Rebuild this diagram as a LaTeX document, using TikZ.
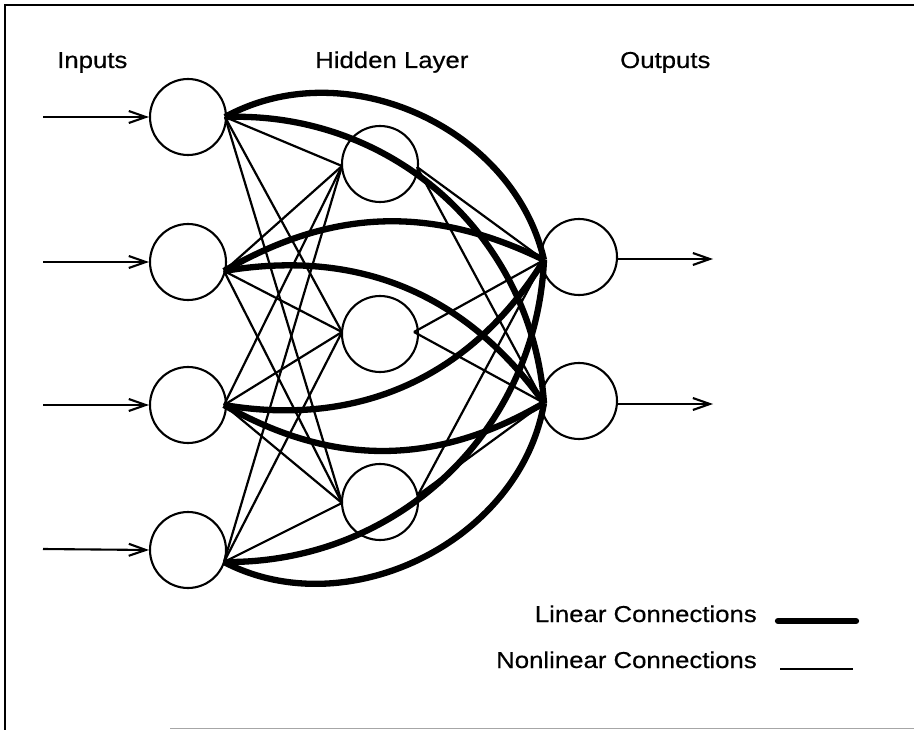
\documentclass[tikz,border=0pt]{standalone}
\usepackage{fontspec}
\setmainfont[FakeStretch=1.12,FakeBold=0.5]{Liberation Sans}
\usetikzlibrary{arrows.meta}
\begin{document}
\begin{tikzpicture}[x=1pt,y=1pt,
  neuron/.style={draw,circle,line width=2.1pt,minimum size=76pt,inner sep=0pt},
  nonlin/.style={line width=2.2pt},
  lin/.style={line width=6.3pt},
  signal/.style={line width=2.1pt,-{Straight Barb[length=17pt,width=12pt,line width=2.1pt]}},
  title/.style={anchor=base west,inner sep=0pt,font=\fontsize{23}{27}\selectfont},
  legend/.style={anchor=base east,inner sep=0pt,font=\fontsize{23}{27}\selectfont}]
\useasboundingbox (0,0) rectangle (914,-730);
\fill[white] (0,0) rectangle (914,-730);
% page frame
\draw[line width=2.5pt] (5,-730) -- (5,-5) -- (914,-5);
\draw[line width=1.5pt,black!35] (170,-728.5) -- (914,-728.5);

% column headings
\node[title] (tin) at (57,-68) {Inputs};
\node[title] (thid) at (315,-68) {Hidden Layer};
\node[title] (tout) at (620,-68) {Outputs};

% neurons
\node[neuron] (i1) at (188,-117) {};
\node[neuron] (i2) at (188,-262) {};
\node[neuron] (i3) at (188,-405) {};
\node[neuron] (i4) at (188,-550) {};
\node[neuron] (h1) at (380,-164) {};
\node[neuron] (h2) at (380,-334) {};
\node[neuron] (h3) at (380,-502) {};
\node[neuron] (o1) at (579,-257) {};
\node[neuron] (o2) at (579,-401) {};

% connection points
\coordinate (a1) at (225,-117);
\coordinate (a2) at (224,-271);
\coordinate (a3) at (224,-405);
\coordinate (a4) at (224,-562);
\coordinate (hl1) at (342,-166);
\coordinate (hl2) at (342,-332);
\coordinate (hl3) at (342,-503);
\coordinate (hr1) at (417,-167);
\coordinate (hr2) at (414,-332);
\coordinate (hr3) at (418,-495);
\coordinate (b1) at (544,-260);
\coordinate (b2) at (544,-403);

% nonlinear connections: inputs to hidden layer, hidden layer to outputs
\foreach \i in {a1,a2,a3,a4}
  \foreach \h in {hl1,hl2,hl3}
    \draw[nonlin] (\i) -- (\h);
\foreach \h in {hr1,hr2,hr3}
  \foreach \o in {b1,b2}
    \draw[nonlin] (\h) -- (\o);

% linear connections: inputs straight to outputs
\draw[lin] (a1) to[bend left=53] (b1);
\draw[lin] (a1) to[bend left=44] (b2);
\draw[lin] (a2) to[bend left=28] (b1);
\draw[lin] (a2) to[bend left=32] (b2);
\draw[lin] (a3) to[bend right=34] (b1);
\draw[lin] (a3) to[bend right=30] (b2);
\draw[lin] (a4) to[bend right=44] (b1);
\draw[lin] (a4) to[bend right=54] (b2);

% input and output signals
\coordinate (s1) at (43,-117);
\coordinate (s2) at (43,-262);
\coordinate (s3) at (43,-405);
\coordinate (s4) at (43,-549);
\draw[signal] (s1) -- (i1.west);
\draw[signal] (s2) -- (i2.west);
\draw[signal] (s3) -- (i3.west);
\draw[signal] (s4) -- (i4.west);
\coordinate (e1) at (713,-259);
\coordinate (e2) at (713,-404);
\draw[signal] (o1.east |- e1) -- (e1);
\draw[signal] (o2.east |- e2) -- (e2);

% legend
\node[legend] (llin) at (757,-622) {Linear Connections};
\node[legend] (lnon) at (757,-668) {Nonlinear Connections};
\coordinate (k1) at (778,-621);
\coordinate (k2) at (856,-621);
\coordinate (k3) at (780,-669);
\coordinate (k4) at (853,-669);
\draw[line width=6.3pt,line cap=round] (k1) -- (k2);
\draw[line width=2.2pt] (k3) -- (k4);
\end{tikzpicture}
\end{document}
